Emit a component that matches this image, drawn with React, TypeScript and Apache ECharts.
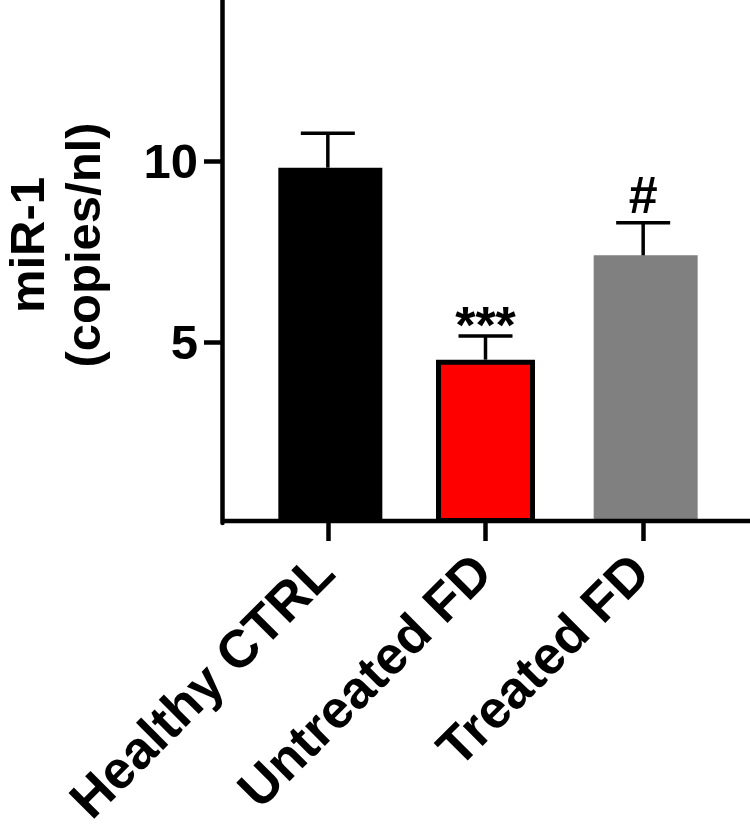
import React, { useEffect, useRef } from "react";
import * as echarts from "echarts";

const categories = ["Healthy CTRL", "Untreated FD", "Treated FD"];
const means = [9.81, 4.51, 7.39];
const sems = [0.95, 0.65, 0.9];
const annotations = ["", "***", "#"];
const barColors = ["#000000", "#fe0000", "#808080"];
const yTicks = [5, 10];
const yTitleLines = ["miR-1", "(copies/nl)"];

const FONT = '"Liberation Sans", Arial, Helvetica, sans-serif';

export default function App() {
  const ref = useRef<HTMLDivElement>(null);
  useEffect(() => {
    document.body.style.margin = "0";
    const chart = echarts.init(ref.current!, null, { renderer: "svg" });
    const plainData = means.map((v, i) =>
      i === 1 ? null : { value: v, itemStyle: { color: barColors[i] } }
    );
    const borderedData = means.map((v, i) =>
      i === 1
        ? { value: v, itemStyle: { color: barColors[i], borderColor: "#000", borderWidth: 5 } }
        : null
    );
    const titleX = [27, 83];
    const option: any = {
      animation: false,
      backgroundColor: "#ffffff",
      grid: {
        left: 249,
        right: 28,
        top: 0,
        bottom: 310,
        containLabel: false,
        outerBoundsMode: "none",
      },
      xAxis: {
        type: "category",
        data: categories,
        axisLine: { show: false },
        axisTick: {
          show: true,
          alignWithLabel: true,
          length: 18,
          lineStyle: { color: "#000", width: 4.5 },
        },
        axisLabel: {
          rotate: 45,
          margin: 36,
          padding: [0, 5, 0, 0],
          color: "#000",
          fontSize: 53,
          fontWeight: "bold",
          fontFamily: FONT,
          interval: 0,
        },
        splitLine: { show: false },
      },
      yAxis: {
        type: "value",
        min: 0,
        max: 14.44,
        offset: 27,
        axisLine: { show: true, lineStyle: { color: "#000", width: 4.5 } },
        axisTick: {
          show: true,
          length: 18,
          customValues: yTicks,
          lineStyle: { color: "#000", width: 4.5 },
        },
        axisLabel: {
          customValues: yTicks,
          margin: 24,
          color: "#000",
          fontSize: 49,
          fontWeight: "bold",
          fontFamily: FONT,
        },
        splitLine: { show: false },
      },
      graphic: [
        {
          type: "line",
          shape: { x1: 221, y1: 521, x2: 750, y2: 521 },
          style: { stroke: "#000", lineWidth: 4.5 },
          z: 10,
        },
        ...yTitleLines.map((t, i) => ({
          type: "text",
          x: titleX[i],
          y: 245,
          rotation: Math.PI / 2,
          style: {
            text: t,
            align: "center",
            verticalAlign: "middle",
            fontSize: 49,
            fontWeight: "bold",
            fontFamily: FONT,
            lineHeight: 44,
            fill: "#000",
          },
        })),
      ],
      series: [
        {
          type: "bar",
          data: plainData,
          barWidth: 104,
          barGap: "-100%",
        },
        {
          type: "bar",
          data: borderedData,
          barWidth: 99,
          barGap: "-100%",
        },
        {
          type: "custom",
          data: means.map((m, i) => [i, m, sems[i]]),
          z: 5,
          renderItem: (params: any, api: any) => {
            const x = api.value(0);
            const m = api.value(1);
            const e = api.value(2);
            const p0 = api.coord([x, m]);
            const p1 = api.coord([x, m + e]);
            const ann = annotations[params.dataIndex];
            const isStar = ann.indexOf("*") >= 0;
            const children: any[] = [
              {
                type: "line",
                shape: { x1: p0[0], y1: p0[1], x2: p1[0], y2: p1[1] },
                style: { stroke: "#000", lineWidth: 3.5 },
              },
              {
                type: "line",
                shape: { x1: p1[0] - 27, y1: p1[1], x2: p1[0] + 27, y2: p1[1] },
                style: { stroke: "#000", lineWidth: 3.5 },
              },
            ];
            if (ann) {
              children.push({
                type: "text",
                style: {
                  text: ann,
                  x: p1[0],
                  y: p1[1] + (isStar ? 15 : -2),
                  align: "center",
                  verticalAlign: "bottom",
                  fontSize: 52,
                  fontWeight: "bold",
                  fontFamily: FONT,
                  fill: "#000",
                },
              });
            }
            return { type: "group", children };
          },
        },
      ],
    };
    chart.setOption(option);
    return () => chart.dispose();
  }, []);
  return <div ref={ref} style={{ width: 750, height: 833 }} />;
}
